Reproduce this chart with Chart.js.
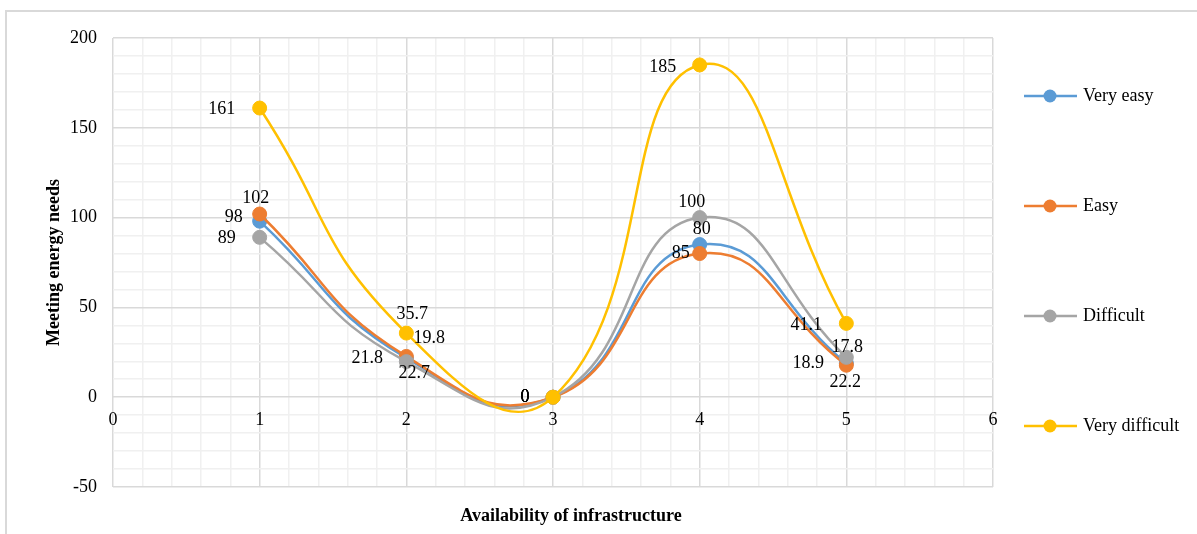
<!DOCTYPE html>
<html>
<head>
<meta charset="utf-8">
<script src="https://cdn.jsdelivr.net/npm/chart.js@4.4.1/dist/chart.umd.min.js"></script>
<style>
    body { margin: 0; background: #fff; overflow: hidden; }
    #wrap { position: relative; width: 1197px; height: 534px; }
    #frame { position: absolute; left: 5px; top: 10px; width: 1300px; height: 700px;
             border-left: 2px solid #d9d9d9; border-top: 2px solid #d9d9d9; }
    canvas { position: absolute; left: 0; top: 0; }
</style>
</head>
<body>
<div id="wrap">
    <div id="frame"></div>
    <canvas id="chart" width="1197" height="534"></canvas>
</div>
<script>
// Data
const categories = [1, 2, 3, 4, 5];
const veryEasy = [98, 21.8, 0, 85, 18.9];
const easy = [102, 22.7, 0, 80, 17.8];
const difficult = [89, 19.8, 0, 100, 22.2];
const veryDifficult = [161, 35.7, 0, 185, 41.1];
const seriesNames = ['Very easy', 'Easy', 'Difficult', 'Very difficult'];
const xRange = [0, 6];
const yRange = [-50, 200];

const colors = ['#5B9BD5', '#ED7D31', '#A5A5A5', '#FFC000'];
const FONT = "'Liberation Serif', 'Times New Roman', serif";

// label offsets (px) from each point, to mimic where the labels sit
const labelOffsets = [
    [[-26, -4], [-39, 0], [-28, 0], [-19, 9], [-38, 0]],
    [[-4, -16], [8, 17], [-28, 0], [2, -24], [1, -18]],
    [[-33, 1], [23, -23], [-28, 0], [-8, -15], [-1, 25]],
    [[-38, 1], [6, -19], [-28, 0], [-37, 2], [-40, 2]]
];

function toPoints(values) {
    return categories.map((c, i) => ({ x: c, y: values[i] }));
}

const allSeries = [veryEasy, easy, difficult, veryDifficult];
const datasets = allSeries.map((values, i) => ({
    label: seriesNames[i],
    data: toPoints(values),
    borderColor: colors[i],
    backgroundColor: colors[i],
    pointBackgroundColor: colors[i],
    pointBorderColor: colors[i],
    pointRadius: 7,
    pointBorderWidth: 1,
    borderWidth: 2.5,
    tension: 0.5,
    fill: false,
    order: 4 - i
}));

function isInt(v) {
    return Math.abs(v - Math.round(v)) < 1e-6;
}

// Data labels
const dataLabels = {
    id: 'dataLabels',
    afterDatasetsDraw(chart) {
        const ctx = chart.ctx;
        ctx.save();
        ctx.font = '18px ' + FONT;
        ctx.fillStyle = '#000';
        ctx.textAlign = 'center';
        ctx.textBaseline = 'middle';
        chart.data.datasets.forEach((ds, di) => {
            const meta = chart.getDatasetMeta(di);
            meta.data.forEach((pt, pi) => {
                const off = labelOffsets[di][pi];
                ctx.fillText(String(ds.data[pi].y), pt.x + off[0], pt.y + off[1]);
            });
        });
        ctx.restore();
    }
};

// Legend on the right plus the x axis title
const sideBits = {
    id: 'sideBits',
    afterDraw(chart) {
        const ctx = chart.ctx;
        ctx.save();
        chart.data.datasets.forEach((ds, i) => {
            const y = 96 + i * 110;
            ctx.strokeStyle = ds.borderColor;
            ctx.lineWidth = 2.5;
            ctx.beginPath();
            ctx.moveTo(1024, y);
            ctx.lineTo(1077, y);
            ctx.stroke();
            ctx.fillStyle = ds.borderColor;
            ctx.beginPath();
            ctx.arc(1050, y, 6.5, 0, Math.PI * 2);
            ctx.fill();
            ctx.fillStyle = '#000';
            ctx.font = '18px ' + FONT;
            ctx.textAlign = 'left';
            ctx.textBaseline = 'middle';
            ctx.fillText(ds.label, 1083, y);
        });
        ctx.font = 'bold 18px ' + FONT;
        ctx.textAlign = 'center';
        ctx.textBaseline = 'middle';
        ctx.fillStyle = '#000';
        ctx.fillText('Availability of infrastructure', 571, 516);
        ctx.restore();
    }
};

const ctx = document.getElementById('chart').getContext('2d');
const chart = new Chart(ctx, {
    type: 'line',
    data: { datasets: datasets },
    options: {
        responsive: false,
        animation: false,
        layout: { padding: { left: 0, right: 204, top: 38, bottom: 47 } },
        plugins: {
            legend: { display: false },
            tooltip: { enabled: false }
        },
        scales: {
            x: {
                type: 'linear',
                position: { y: 0 },
                min: xRange[0],
                max: xRange[1],
                border: { display: false },
                grid: {
                    drawTicks: false,
                    lineWidth: 1.5,
                    color: c => isInt(c.tick.value) ? '#d9d9d9' : '#f0f0f0'
                },
                ticks: {
                    stepSize: 0.2,
                    autoSkip: false,
                    maxRotation: 0,
                    padding: 12,
                    color: '#000',
                    font: { family: FONT, size: 18 },
                    callback: v => isInt(v) ? Math.round(v) : ''
                }
            },
            y: {
                min: yRange[0],
                max: yRange[1],
                border: { display: false },
                afterFit: s => { s.width = 113; },
                grid: {
                    drawTicks: false,
                    lineWidth: 1.5,
                    color: c => (Math.round(c.tick.value) % 50 === 0) ? '#d9d9d9' : '#f0f0f0'
                },
                ticks: {
                    stepSize: 10,
                    autoSkip: false,
                    padding: 16,
                    color: '#000',
                    font: { family: FONT, size: 18 },
                    callback: v => (Math.round(v) % 50 === 0) ? v : ''
                },
                title: {
                    display: true,
                    text: 'Meeting energy needs',
                    color: '#000',
                    font: { family: FONT, size: 18, weight: 'bold' },
                    padding: { top: 44, bottom: 0 }
                }
            }
        }
    },
    plugins: [dataLabels, sideBits]
});
</script>
</body>
</html>
